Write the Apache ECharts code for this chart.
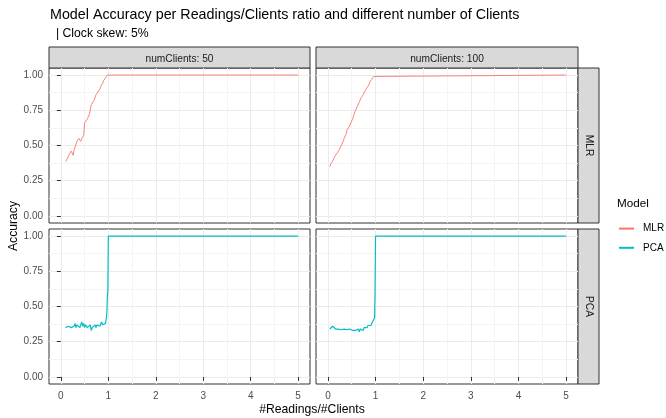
<!DOCTYPE html>
<html><head><meta charset="utf-8">
<script src="https://cdn.jsdelivr.net/npm/echarts@6/dist/echarts.min.js"></script>
<style>html,body{margin:0;padding:0;background:#fff}#c{width:666px;height:418px}</style>
</head><body><div id="c"></div>
<script>
const facetCols = ['numClients: 50', 'numClients: 100'];
const facetRows = ['MLR', 'PCA'];
const xTicks = [0, 1, 2, 3, 4, 5];
const yTicks = [0, 0.25, 0.5, 0.75, 1];

const mlr50 = [[0.10,0.385],[0.12,0.39],[0.14,0.41],[0.16,0.40],[0.18,0.44],[0.20,0.43],[0.22,0.46],[0.24,0.45],[0.26,0.43],[0.28,0.47],[0.30,0.49],[0.32,0.50],[0.34,0.53],[0.36,0.52],[0.38,0.55],[0.40,0.54],[0.42,0.53],[0.44,0.55],[0.46,0.54],[0.48,0.57],[0.50,0.66],[0.52,0.67],[0.54,0.66],[0.56,0.69],[0.58,0.70],[0.60,0.72],[0.62,0.75],[0.64,0.79],[0.66,0.78],[0.68,0.80],[0.70,0.82],[0.72,0.83],[0.74,0.86],[0.76,0.85],[0.78,0.88],[0.80,0.89],[0.82,0.90],[0.84,0.92],[0.86,0.93],[0.88,0.94],[0.90,0.96],[0.92,0.97],[0.94,0.98],[0.96,0.99],[0.98,1.0],[1.0,1.0],[5.0,1.0]];
const mlr100 = [[0.04,0.35],[0.06,0.37],[0.08,0.36],[0.10,0.39],[0.12,0.40],[0.14,0.42],[0.16,0.41],[0.18,0.44],[0.20,0.45],[0.22,0.44],[0.24,0.47],[0.26,0.48],[0.28,0.50],[0.30,0.51],[0.32,0.53],[0.34,0.55],[0.36,0.54],[0.38,0.58],[0.40,0.61],[0.42,0.60],[0.44,0.63],[0.46,0.64],[0.48,0.66],[0.50,0.67],[0.52,0.69],[0.54,0.70],[0.56,0.73],[0.58,0.75],[0.60,0.76],[0.62,0.78],[0.64,0.79],[0.66,0.81],[0.68,0.82],[0.70,0.84],[0.72,0.85],[0.74,0.86],[0.76,0.87],[0.78,0.89],[0.80,0.90],[0.82,0.91],[0.84,0.92],[0.86,0.93],[0.88,0.95],[0.90,0.96],[0.92,0.97],[0.94,0.98],[0.96,0.99],[0.98,1.0],[1.0,1.0],[5.0,1.0]];
const pca50 = [[0.10,0.35],[0.12,0.36],[0.14,0.35],[0.16,0.36],[0.18,0.35],[0.20,0.37],[0.22,0.35],[0.24,0.36],[0.26,0.34],[0.28,0.36],[0.30,0.38],[0.32,0.35],[0.34,0.37],[0.36,0.36],[0.38,0.38],[0.40,0.35],[0.42,0.37],[0.44,0.39],[0.46,0.36],[0.48,0.38],[0.50,0.35],[0.52,0.37],[0.54,0.38],[0.56,0.35],[0.58,0.36],[0.60,0.34],[0.62,0.37],[0.64,0.33],[0.66,0.35],[0.68,0.36],[0.70,0.34],[0.72,0.37],[0.74,0.35],[0.76,0.37],[0.78,0.36],[0.80,0.38],[0.82,0.36],[0.84,0.37],[0.86,0.39],[0.88,0.37],[0.90,0.38],[0.92,0.37],[0.94,0.38],[0.96,0.42],[0.97,0.46],[0.98,0.58],[0.99,0.60],[1.0,1.0],[5.0,1.0]];
const pca100 = [[0.04,0.34],[0.06,0.345],[0.08,0.35],[0.10,0.36],[0.12,0.355],[0.14,0.35],[0.16,0.34],[0.18,0.345],[0.20,0.335],[0.22,0.34],[0.24,0.33],[0.26,0.34],[0.28,0.335],[0.30,0.34],[0.32,0.335],[0.34,0.34],[0.36,0.33],[0.38,0.34],[0.40,0.335],[0.42,0.34],[0.44,0.33],[0.46,0.34],[0.48,0.335],[0.50,0.34],[0.52,0.33],[0.54,0.335],[0.56,0.34],[0.58,0.33],[0.60,0.34],[0.62,0.335],[0.64,0.34],[0.66,0.32],[0.68,0.34],[0.70,0.33],[0.72,0.34],[0.74,0.33],[0.76,0.35],[0.78,0.34],[0.80,0.355],[0.82,0.35],[0.84,0.365],[0.86,0.36],[0.88,0.37],[0.90,0.365],[0.92,0.38],[0.94,0.38],[0.96,0.39],[0.98,0.42],[0.99,0.62],[1.0,1.0],[5.0,1.0]];

const panelData = [[mlr50, mlr100], [pca50, pca100]];
const modelColors = { MLR: '#F8766D', PCA: '#00BFC4' };

const FONT = "'Liberation Sans', Arial, sans-serif";
const colsPos = [{ left: 49, width: 261 }, { left: 316, width: 262 }];
const rowsPos = [{ top: 68, height: 155 }, { top: 229, height: 155 }];
const MAJ = '#EBEBEB', MIN = '#F4F4F4', T = 'rgba(0,0,0,0)';

const grids = [], xAxes = [], yAxes = [], series = [];
let g = 0;
for (let r = 0; r < 2; r++) {
  for (let c = 0; c < 2; c++) {
    grids.push({ left: colsPos[c].left, width: colsPos[c].width, top: rowsPos[r].top, height: rowsPos[r].height,
      show: true, backgroundColor: '#fff', borderColor: '#333', borderWidth: 1, containLabel: false, outerBoundsMode: 'none' });
    xAxes.push({ gridIndex: g, type: 'value', min: -0.25, max: 5.25, interval: 0.25, position: 'bottom',
      axisLine: { show: false }, axisTick: { show: false }, axisLabel: { show: false },
      splitLine: { show: true, lineStyle: { width: 1, color: [T, MAJ, T, MIN] } } });
    yAxes.push({ gridIndex: g, type: 'value', min: -0.05, max: 1.05, interval: 0.025, position: 'left',
      axisLine: { show: false }, axisTick: { show: false }, axisLabel: { show: false },
      splitLine: { show: true, lineStyle: { width: 1, color: [T, T, MAJ, T, T, T, T, MIN, T, T] } } });
    xAxes.push({ gridIndex: g, type: 'value', min: -0.25, max: 5.25, position: 'bottom', show: r === 1,
      axisLine: { show: false }, splitLine: { show: false },
      axisTick: { show: true, customValues: xTicks, length: 4, lineStyle: { color: '#333' } },
      axisLabel: { customValues: xTicks, color: '#4D4D4D', fontSize: 10, margin: 7, fontFamily: FONT } });
    yAxes.push({ gridIndex: g, type: 'value', min: -0.05, max: 1.05, position: 'left', show: c === 0,
      axisLine: { show: false }, splitLine: { show: false },
      axisTick: { show: true, customValues: yTicks, length: 4, lineStyle: { color: '#333' } },
      axisLabel: { customValues: yTicks, color: '#4D4D4D', fontSize: 10, margin: 6, fontFamily: FONT,
        formatter: v => Number(v).toFixed(2) } });
    const name = facetRows[r];
    series.push({ type: 'line', name: name, xAxisIndex: g * 2, yAxisIndex: g * 2, data: panelData[r][c],
      symbol: 'none', showSymbol: false, smooth: false,
      lineStyle: { color: modelColors[name], width: name === 'PCA' ? 1.2 : 0.9 },
      itemStyle: { color: modelColors[name] } });
    g++;
  }
}

const graphics = [];
graphics.push({ type: 'text', x: 50, y: 15, style: { text: 'Model Accuracy per Readings/Clients ratio and different number of Clients', fontSize: 14.3, fontFamily: FONT, fill: '#000', verticalAlign: 'middle' } });
graphics.push({ type: 'text', x: 56, y: 34, style: { text: '| Clock skew: 5%', fontSize: 12.2, fontFamily: FONT, fill: '#000', verticalAlign: 'middle' } });
for (let c = 0; c < 2; c++) {
  graphics.push({ type: 'rect', shape: { x: colsPos[c].left, y: 47, width: colsPos[c].width, height: 21 }, style: { fill: '#D9D9D9', stroke: '#333', lineWidth: 1 } });
  graphics.push({ type: 'text', x: colsPos[c].left + colsPos[c].width / 2, y: 59, style: { text: facetCols[c], fontSize: 10.2, fontFamily: FONT, fill: '#1A1A1A', align: 'center', verticalAlign: 'middle' } });
}
for (let r = 0; r < 2; r++) {
  graphics.push({ type: 'rect', shape: { x: 578, y: rowsPos[r].top, width: 21, height: rowsPos[r].height }, style: { fill: '#D9D9D9', stroke: '#333', lineWidth: 1 } });
  graphics.push({ type: 'text', x: 589, y: rowsPos[r].top + rowsPos[r].height / 2, rotation: -Math.PI / 2, style: { text: facetRows[r], fontSize: 10.2, fontFamily: FONT, fill: '#1A1A1A', align: 'center', verticalAlign: 'middle' } });
}
graphics.push({ type: 'text', x: 312, y: 410, style: { text: '#Readings/#Clients', fontSize: 12.2, fontFamily: FONT, fill: '#000', align: 'center', verticalAlign: 'middle' } });
graphics.push({ type: 'text', x: 14, y: 226, rotation: Math.PI / 2, style: { text: 'Accuracy', fontSize: 12.2, fontFamily: FONT, fill: '#000', align: 'center', verticalAlign: 'middle' } });
graphics.push({ type: 'text', x: 617, y: 204, style: { text: 'Model', fontSize: 11.7, fontFamily: FONT, fill: '#000', verticalAlign: 'middle' } });

const chart = echarts.init(document.getElementById('c'), null, { renderer: 'canvas' });
chart.setOption({
  animation: false,
  backgroundColor: '#fff',
  grid: grids,
  xAxis: xAxes,
  yAxis: yAxes,
  series: series,
  legend: { data: facetRows, orient: 'vertical', left: 618, top: 223, padding: 0, itemWidth: 15, itemHeight: 14, itemGap: 8,
    itemStyle: { opacity: 0 }, textStyle: { fontSize: 10, fontFamily: FONT, color: '#000', padding: [0, 0, 0, 4] }, selectedMode: false },
  graphic: graphics
});
</script></body></html>
